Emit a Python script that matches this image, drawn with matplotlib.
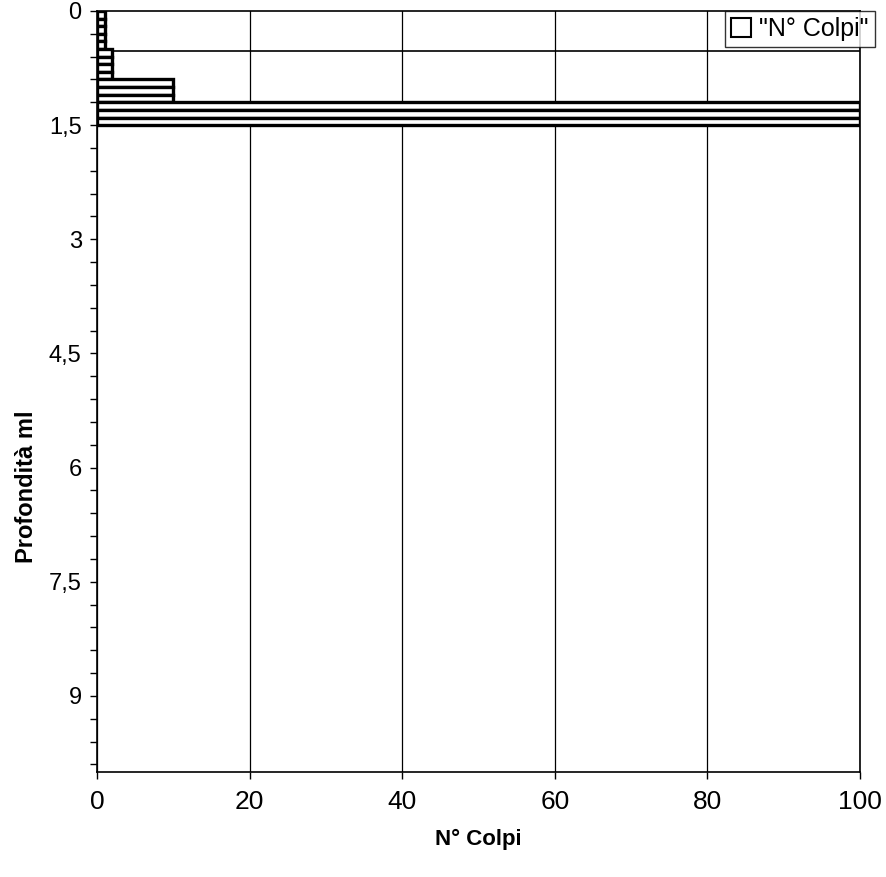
import numpy as np
import matplotlib.pyplot as plt

plt.rcParams['font.family'] = ['Liberation Sans', 'DejaVu Sans']

# depth of top of each 0.1 m step and blow counts
depths = [0.0, 0.1, 0.2, 0.3, 0.4, 0.5, 0.6, 0.7, 0.8, 0.9, 1.0, 1.1, 1.2, 1.3, 1.4]
colpi = [1, 1, 1, 1, 1, 2, 2, 2, 2, 10, 10, 10, 100, 100, 100]
step = 0.1

xticks = [0, 20, 40, 60, 80, 100]
yticks = [0, 1.5, 3, 4.5, 6, 7.5, 9]
ytick_labels = ["0", "1,5", "3", "4,5", "6", "7,5", "9"]

fig = plt.figure(figsize=(8.86, 8.77), dpi=100)
ax = fig.add_axes([0.1095, 0.1197, 0.8612, 0.8678])

ax.barh(depths, colpi, height=step, align='edge', color='white',
        edgecolor='black', linewidth=2.4, label='"N° Colpi"', zorder=3)

ax.set_xlim(0, 100)
ax.set_ylim(10, 0)

ax.set_xticks(xticks)
ax.set_xticklabels([str(v) for v in xticks], fontsize=19)
ax.set_yticks(yticks)
ax.set_yticklabels(ytick_labels, fontsize=17)
ax.set_yticks(np.arange(0, 10, 0.3), minor=True)
ax.tick_params(axis='x', length=5, pad=8, width=1)
ax.tick_params(axis='y', which='both', length=5, pad=6, width=1)

ax.grid(axis='x', color='black', linewidth=0.9, zorder=1)
ax.axhline(0.53, color='black', linewidth=1.2, zorder=2)

for s in ax.spines.values():
    s.set_linewidth(1.2)

ax.set_xlabel("N° Colpi", fontsize=16, fontweight='bold')
ax.xaxis.set_label_coords(0.5, -0.075)
ax.set_ylabel("Profondità ml", fontsize=17, fontweight='bold')
ax.yaxis.set_label_coords(-0.077, 0.375)

leg = ax.legend(loc='upper right', bbox_to_anchor=(1.019, 1.0), fontsize=18,
                frameon=True, fancybox=False, edgecolor='black',
                handlelength=0.8, handleheight=0.8, handletextpad=0.3,
                borderpad=0.25, borderaxespad=0.0)
leg.get_frame().set_linewidth(1.0)
for h in leg.legend_handles:
    h.set_linewidth(1.5)

fig.savefig("out.png", dpi=100)
